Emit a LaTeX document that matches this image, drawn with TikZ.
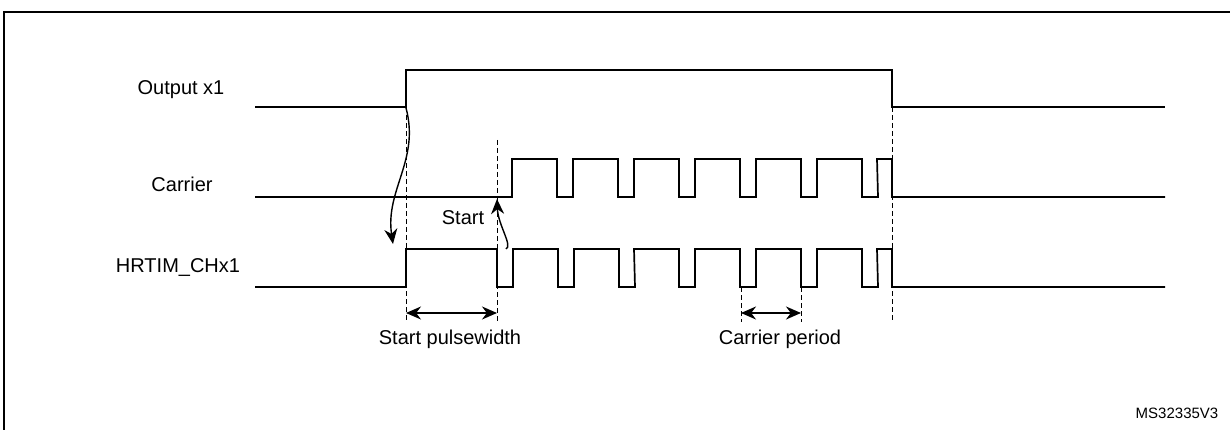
\documentclass[tikz,border=0pt]{standalone}
\usepackage{fontspec}
\setmainfont{Liberation Sans}
\usetikzlibrary{arrows.meta,positioning}
\tikzset{
  wave/.style={line width=1.7pt},
  guide/.style={dash pattern=on 5pt off 3pt, line width=0.8pt},
  dimarrow/.style={{Stealth[length=15pt,width=13pt]}-{Stealth[length=15pt,width=13pt]}, line width=1.7pt},
  trig/.style={-{Stealth[length=15pt,width=13pt]}, line width=1.4pt},
  lbl/.style={font=\fontsize{20}{22}\selectfont, inner sep=0pt}
}
\begin{document}
\begin{tikzpicture}[x=1pt,y=-1pt]
\useasboundingbox (0,0) rectangle (1230,430);
% frame
\draw[line width=1.5pt] (4,440) -- (4,12) -- (1240,12);

% signal names
\node[lbl] (out) at (181,90) {Output x1};
\node[lbl] (car) at (182,184) {Carrier};
\node[lbl] (hr) at (178,268) {HRTIM\_CHx1};

% Output x1
\draw[wave] (255,107) -- (406,107) -- (406,70) -- (892,70) -- (892,107) -- (1165,107);

% Carrier
\draw[wave] (255,197) -- (512,197)
  \foreach \x in {512,573,634,695,756,817} {
    -- (\x,159) -- (\x+45,159) -- (\x+45,197) -- (\x+61,197)
  } -- (877,159) -- (892,159) -- (892,197) -- (1165,197);

% HRTIM_CHx1
\draw[wave] (255,287) -- (406,287) -- (406,249) -- (497,249) -- (497,287) -- (513,287)
  \foreach \x in {513,574,634,695,756,817} {
    -- (\x,249) -- (\x+45,249) -- (\x+45,287) -- (\x+61,287)
  } -- (877,249) -- (892,249) -- (892,287) -- (1165,287);

% edges
\coordinate (outRise) at (406,108);
\coordinate (hrRise) at (393,244);
\coordinate (hrFall) at (506,249);
\coordinate (carRise) at (497,199);
\coordinate (spL) at (406,313);
\coordinate (spR) at (497,313);
\coordinate (cpL) at (741,313);
\coordinate (cpR) at (801,313);

% guides
\draw[guide] (406,107) -- (406,322);
\draw[guide] (497,140) -- (497,322);
\draw[guide] (892,107) -- (892,322);
\draw[guide] (741,287) -- (741,322);
\draw[guide] (801,287) -- (801,322);

% triggers
\draw[trig] (outRise) .. controls (420,160) and (385,190) .. (hrRise);
\draw[trig] (hrFall) .. controls (513,246) and (498,225) .. (carRise);
\node[lbl] (start) at (463,218) {Start};

% widths
\draw[dimarrow] (spL) -- (spR);
\node[lbl] (spw) at (450,339) {Start pulsewidth};
\draw[dimarrow] (cpL) -- (cpR);
\node[lbl] (cpw) at (780,339) {Carrier period};

\node[lbl, font=\fontsize{15}{17}\selectfont] (ref) at (1177,413) {MS32335V3};
\end{tikzpicture}
\end{document}
